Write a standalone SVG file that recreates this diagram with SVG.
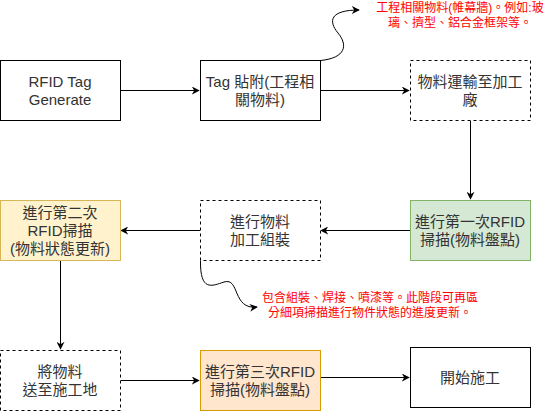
<svg xmlns="http://www.w3.org/2000/svg" width="551" height="412" viewBox="0 0 551 412">
<style>
.box{fill:#ffffff;stroke:#000000;stroke-width:1}
.dash{stroke-dasharray:3 3}
.t{font-family:"Liberation Sans","Noto Sans CJK TC",sans-serif;font-size:15px;fill:#333333;text-anchor:middle}
.r{font-family:"Liberation Sans","Noto Sans CJK TC",sans-serif;font-size:12px;fill:#ff0000;text-anchor:middle}
.e{fill:none;stroke:#000000;stroke-width:1;marker-end:url(#arr)}
</style>
<defs>
<marker id="arr" viewBox="0 0 10 10" refX="9" refY="5" markerWidth="8" markerHeight="8" markerUnits="userSpaceOnUse" orient="auto">
<path d="M0,0 L10,5 L0,10 L3,5 z" fill="#000000"/>
</marker>
</defs>
<rect width="551" height="412" fill="#ffffff"/>
<g id="connectors">
<path class="e" d="M120.5,90.5 L199,90.5"/>
<path class="e" d="M320.5,90.5 L409,90.5"/>
<path class="e" d="M470.5,120.5 L470.5,199"/>
<path class="e" d="M410,230.5 L321,230.5"/>
<path class="e" d="M200,230.5 L121,230.5"/>
<path class="e" d="M60.5,260.5 L60.5,349"/>
<path class="e" d="M120.5,380.5 L199,380.5"/>
<path class="e" d="M320.5,377.5 L409,377.5"/>
<path class="e" d="M320.5,60.5 C346,58 348,45 338,33 C328,21 330,10 359,10"/>
<path class="e" d="M200.5,260.5 C200,292 212,286 224,282 C240,277 232,310 257,307"/>
</g>
<g id="n1"><rect class="box" x="0.5" y="60.5" width="120" height="60"/><text class="t" x="60" y="87">RFID Tag</text><text class="t" x="60" y="105">Generate</text></g>
<g id="n2"><rect class="box" x="200.5" y="60.5" width="120" height="60"/><text class="t" x="260" y="87">Tag 貼附(工程相</text><text class="t" x="260" y="105">關物料)</text></g>
<g id="n3"><rect class="box dash" x="410.5" y="60.5" width="120" height="60"/><text class="t" x="470" y="87">物料運輸至加工</text><text class="t" x="470" y="105">廠</text></g>
<g id="n4"><rect class="box" style="fill:#fff2cc;stroke:#d6b656" x="0.5" y="200.5" width="120" height="60"/><text class="t" x="60" y="218">進行第二次</text><text class="t" x="60" y="236">RFID掃描</text><text class="t" x="60" y="254">(物料狀態更新)</text></g>
<g id="n5"><rect class="box dash" x="200.5" y="200.5" width="120" height="60"/><text class="t" x="260" y="227">進行物料</text><text class="t" x="260" y="245">加工組裝</text></g>
<g id="n6"><rect class="box" style="fill:#d5e8d4;stroke:#82b366" x="410.5" y="200.5" width="120" height="60"/><text class="t" x="470" y="227">進行第一次RFID</text><text class="t" x="470" y="245">掃描(物料盤點)</text></g>
<g id="n7"><rect class="box dash" x="0.5" y="350.5" width="120" height="60"/><text class="t" x="60" y="377">將物料</text><text class="t" x="60" y="395">送至施工地</text></g>
<g id="n8"><rect class="box" style="fill:#ffe6cc;stroke:#d79b00" x="200.5" y="350.5" width="120" height="60"/><text class="t" x="260" y="377">進行第三次RFID</text><text class="t" x="260" y="395">掃描(物料盤點)</text></g>
<g id="n9"><rect class="box" x="410.5" y="347.5" width="120" height="60"/><text class="t" x="470" y="383">開始施工</text></g>
<g id="label1"><text class="r" x="460" y="12">工程相關物料(帷幕牆)。例如:玻</text><text class="r" x="460" y="27">璃、擠型、鋁合金框架等。</text></g>
<g id="label2"><text class="r" x="370" y="302">包含組裝、焊接、噴漆等。此階段可再區</text><text class="r" x="370" y="317">分細項掃描進行物件狀態的進度更新。</text></g>
</svg>
